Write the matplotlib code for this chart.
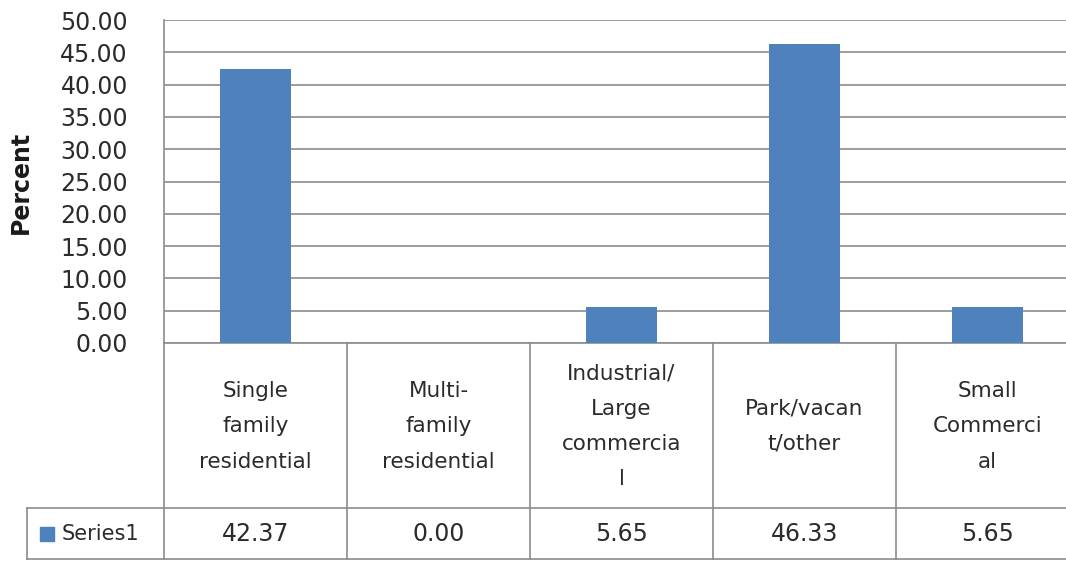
import matplotlib.pyplot as plt
import numpy as np

categories = ['Single\nfamily\nresidential', 'Multi-\nfamily\nresidential',
              'Industrial/\nLarge\ncommercia\nl', 'Park/vacan\nt/other',
              'Small\nCommerci\nal']
values = [42.37, 0.00, 5.65, 46.33, 5.65]
series_name = 'Series1'
yticks = np.arange(0, 50.01, 5)

bar_color = '#4F81BD'
grid_color = '#8C8C8C'
text_color = '#2B2B2B'

fig = plt.figure(figsize=(10.66, 5.61), dpi=100)
# plot area runs a bit past the right edge, like the cropped original
ax = fig.add_axes([164 / 1066, 218 / 561, 915 / 1066, 323 / 561])

x = np.arange(len(values)) + 0.5
ax.bar(x, values, width=0.39, color=bar_color, zorder=3)
ax.set_xlim(0, len(values))
ax.set_ylim(0, 50)
ax.set_yticks(yticks)
ax.set_yticklabels(['%.2f' % t for t in yticks], fontsize=17, color=text_color)
ax.tick_params(axis='y', length=0, pad=26)
ax.set_xticks([])
ax.grid(axis='y', color=grid_color, linewidth=1.2, zorder=0)
for s in ['top', 'right']:
    ax.spines[s].set_visible(False)
ax.spines['left'].set_color(grid_color)
ax.spines['bottom'].set_color(grid_color)
ax.spines['left'].set_linewidth(1.2)
ax.spines['bottom'].set_linewidth(1.2)

fig.text(21 / 1066, 1 - 182 / 561, 'Percent', rotation=90, fontsize=17,
         fontweight='bold', color='#1A1A1A', ha='center', va='center')

# data table under the plot
tr = ax.get_xaxis_transform()
row_mid = -0.511
row_bot = -0.669
left_cell = -0.749
lw = 1.2
for i in range(len(values) + 1):
    ax.plot([i, i], [0, row_bot], transform=tr, color=grid_color, lw=lw, clip_on=False)
ax.plot([left_cell, len(values)], [row_mid, row_mid], transform=tr, color=grid_color, lw=lw, clip_on=False)
ax.plot([left_cell, len(values)], [row_bot, row_bot], transform=tr, color=grid_color, lw=lw, clip_on=False)
ax.plot([left_cell, left_cell], [row_mid, row_bot], transform=tr, color=grid_color, lw=lw, clip_on=False)

for xi, cat, v in zip(x, categories, values):
    ax.text(xi, -0.258, cat, transform=tr, ha='center', va='center', fontsize=15.5,
            color=text_color, linespacing=1.95, clip_on=False)
    ax.text(xi, -0.59, '%.2f' % v, transform=tr, ha='center', va='center', fontsize=17,
            color=text_color, clip_on=False)

# legend key inside the left cell
ax.scatter([-0.64], [-0.59], transform=tr, marker='s', s=110, color=bar_color, clip_on=False)
ax.text(-0.56, -0.59, series_name, transform=tr, ha='left', va='center', fontsize=15,
        color=text_color, clip_on=False)

fig.savefig('out.png', dpi=100)
